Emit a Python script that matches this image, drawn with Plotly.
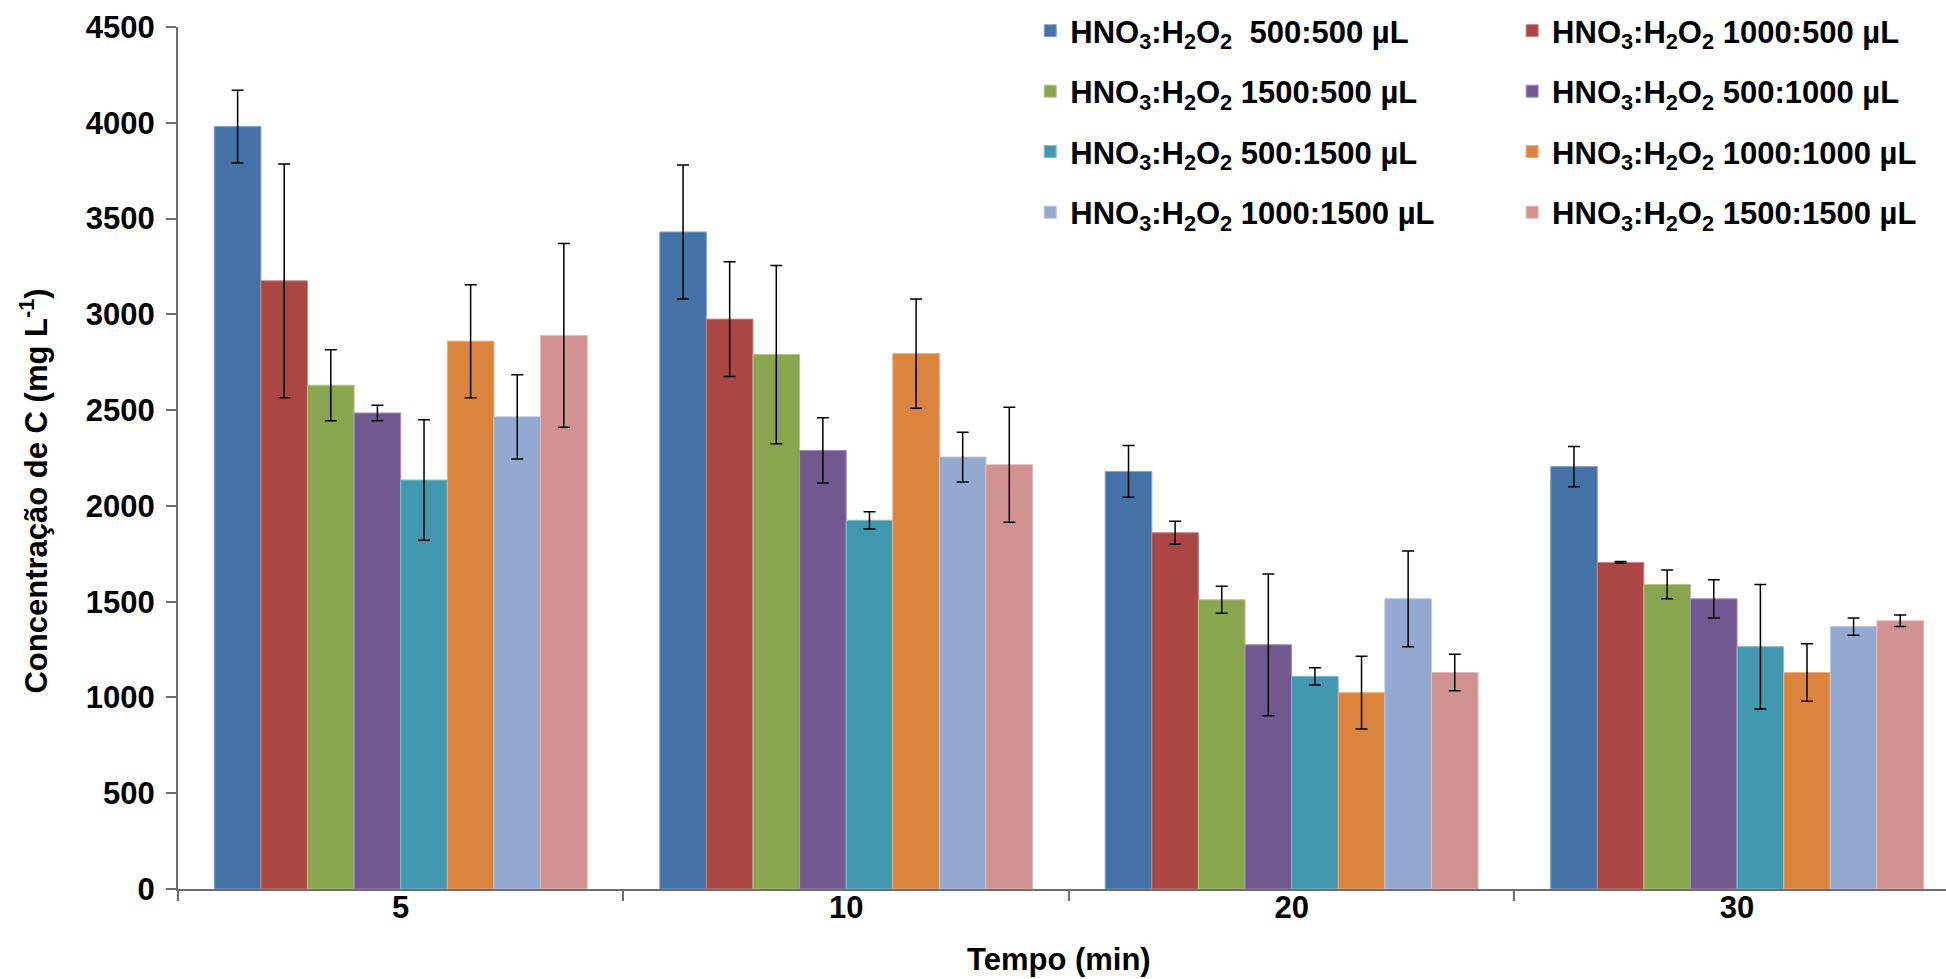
import plotly.graph_objects as go

categories = ["5", "10", "20", "30"]

series_names = [
    "HNO<sub>3</sub>:H<sub>2</sub>O<sub>2</sub>\u00a0\u00a0500:500 µL",
    "HNO<sub>3</sub>:H<sub>2</sub>O<sub>2</sub>\u00a01000:500 µL",
    "HNO<sub>3</sub>:H<sub>2</sub>O<sub>2</sub>\u00a01500:500 µL",
    "HNO<sub>3</sub>:H<sub>2</sub>O<sub>2</sub>\u00a0500:1000 µL",
    "HNO<sub>3</sub>:H<sub>2</sub>O<sub>2</sub>\u00a0500:1500 µL",
    "HNO<sub>3</sub>:H<sub>2</sub>O<sub>2</sub>\u00a01000:1000 µL",
    "HNO<sub>3</sub>:H<sub>2</sub>O<sub>2</sub>\u00a01000:1500 µL",
    "HNO<sub>3</sub>:H<sub>2</sub>O<sub>2</sub>\u00a01500:1500 µL",
]

v_500_500 = [3980, 3430, 2180, 2205]
v_1000_500 = [3175, 2975, 1860, 1705]
v_1500_500 = [2630, 2790, 1510, 1590]
v_500_1000 = [2485, 2290, 1275, 1515]
v_500_1500 = [2135, 1925, 1110, 1265]
v_1000_1000 = [2860, 2795, 1025, 1130]
v_1000_1500 = [2465, 2255, 1515, 1370]
v_1500_1500 = [2890, 2215, 1130, 1400]

e_500_500 = [190, 350, 135, 105]
e_1000_500 = [610, 300, 60, 5]
e_1500_500 = [185, 465, 70, 75]
e_500_1000 = [40, 170, 370, 100]
e_500_1500 = [315, 45, 45, 325]
e_1000_1000 = [295, 285, 190, 150]
e_1000_1500 = [220, 130, 250, 45]
e_1500_1500 = [480, 300, 95, 30]

values = [v_500_500, v_1000_500, v_1500_500, v_500_1000,
          v_500_1500, v_1000_1000, v_1000_1500, v_1500_1500]
errors = [e_500_500, e_1000_500, e_1500_500, e_500_1000,
          e_500_1500, e_1000_1000, e_1000_1500, e_1500_1500]

colors = ["#4572A7", "#AA4643", "#89A54E", "#71588F",
          "#4198AF", "#DB843D", "#93A9CF", "#D19392"]


def tint(hex_color, f=0.35):
    h = hex_color.lstrip("#")
    r, g, b = (int(h[i:i + 2], 16) for i in (0, 2, 4))
    r, g, b = (round(c + (255 - c) * f) for c in (r, g, b))
    return f"#{r:02X}{g:02X}{b:02X}"


W, H = 1946, 979
L, R, T, B = 177.5, 0, 27, 90
PW = W - L - R
PH = H - T - B

FONT = "Liberation Sans, Arial, sans-serif"


def px_x(px):
    return (px - L) / PW


def px_y(py):
    return (H - B - py) / PH


fig = go.Figure()

legend_names = ["legend"] + [f"legend{i}" for i in range(2, 9)]
row_y = [31, 91.5, 152, 212.5]
col_x = [1030, 1512]

for i, (name, vals, errs, col) in enumerate(zip(series_names, values, errors, colors)):
    fig.add_trace(go.Bar(
        x=categories, y=vals, name=name,
        marker=dict(color=col, line=dict(width=1, color=tint(col))),
        error_y=dict(type="data", array=errs, visible=True,
                     color="black", thickness=1.5, width=6),
        legend=legend_names[i],
    ))

layout_legends = {}
for i, ln in enumerate(legend_names):
    r, c = divmod(i, 2)
    layout_legends[ln] = dict(
        x=px_x(col_x[c]), xanchor="left",
        y=px_y(row_y[r]), yanchor="middle",
        bgcolor="rgba(0,0,0,0)", borderwidth=0,
        font=dict(family=FONT, size=31, color="black", weight="bold"),
        orientation="h",
    )

fig.update_layout(
    width=W, height=H,
    margin=dict(l=L, r=R, t=T, b=B, pad=0),
    paper_bgcolor="white", plot_bgcolor="white",
    barmode="group", bargap=0.163, bargroupgap=0,
    font=dict(family=FONT, size=30, color="black", weight="bold"),
    showlegend=True,
    **layout_legends,
)

fig.update_xaxes(
    type="category", range=[-0.5, 3.469],
    showline=True, linecolor="#6e6e6e", linewidth=2,
    ticks="outside", tickson="boundaries", ticklen=10, tickcolor="#6e6e6e", tickwidth=1.5,
    tickfont=dict(family=FONT, size=31, color="black", weight="bold"),
    ticklabelstandoff=-10,
    showgrid=False, zeroline=False,
)
fig.update_yaxes(
    range=[0, 4500], dtick=500, tick0=0,
    showline=True, linecolor="#6e6e6e", linewidth=2,
    ticks="outside", ticklen=10, tickcolor="#6e6e6e", tickwidth=1.5,
    tickfont=dict(family=FONT, size=31, color="black", weight="bold"),
    ticklabelstandoff=5,
    showgrid=False, zeroline=False,
)

fig.add_annotation(
    text="Tempo (min)", xref="paper", yref="paper",
    x=px_x(1058.7), y=px_y(959), xanchor="center", yanchor="middle",
    showarrow=False, font=dict(family=FONT, size=31, color="black", weight="bold"),
)
fig.add_annotation(
    text="Concentração de C (mg L<sup>-1</sup>)", xref="paper", yref="paper",
    x=px_x(33), y=px_y(491), xanchor="center", yanchor="middle", textangle=-90,
    showarrow=False, font=dict(family=FONT, size=31, color="black", weight="bold"),
)

fig.write_html("out.html")
